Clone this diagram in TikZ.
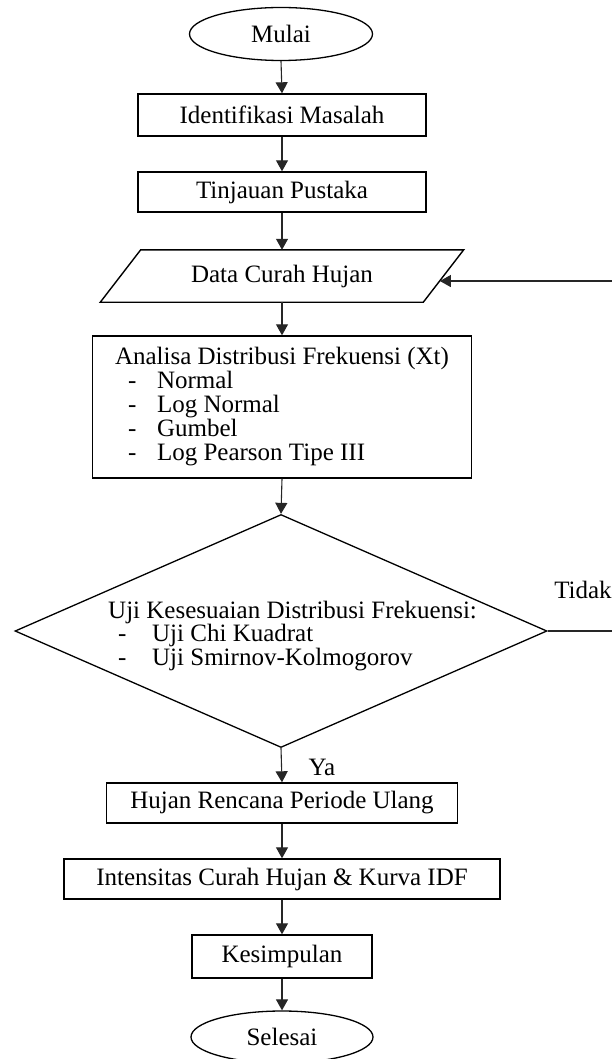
\documentclass[tikz,border=0pt]{standalone}
\usepackage{fontspec}
\setmainfont{Liberation Serif}
\usetikzlibrary{shapes.geometric,arrows.meta,calc}
\begin{document}
\begin{tikzpicture}[x=1pt,y=-1pt,
  every node/.style={font=\fontsize{25}{24}\selectfont, inner sep=0pt},
  box/.style={draw, line width=1.4pt, rectangle},
  term/.style={draw, line width=1.3pt, ellipse},
  dia/.style={draw, line width=1.3pt, diamond},
  edge/.style={line width=1.4pt},
  arr/.style={line width=1.1pt, draw=black!85, -{Triangle[width=12pt,length=11pt]}},
  lbl/.style={}]
\useasboundingbox (0,0) rectangle (611,1059);

\node[term, minimum width=183pt, minimum height=53pt] (start) at (281,34) {Mulai};
\node[box, minimum width=288pt, minimum height=42pt] (id) at (282,115) {Identifikasi Masalah};
\node[box, minimum width=288pt, minimum height=40pt] (tp) at (282,192) {Tinjauan Pustaka};
\node[minimum width=363pt, minimum height=52pt] (data) at (282,276) {Data Curah Hujan};
\draw[edge] (data.south west) -- ([xshift=323pt]data.south west) -- (data.north east)
  -- ([xshift=-323pt]data.north east) -- cycle;
\coordinate (dataR) at ($(data.north east)!0.596!([xshift=-40pt]data.south east)$);

\node[box, minimum width=379pt, minimum height=142pt, align=left] (an) at (282,407)
  {Analisa Distribusi Frekuensi (Xt)\\
   \hspace*{13pt}\makebox[29pt][l]{-}Normal\\
   \hspace*{13pt}\makebox[29pt][l]{-}Log Normal\\
   \hspace*{13pt}\makebox[29pt][l]{-}Gumbel\\
   \hspace*{13pt}\makebox[29pt][l]{-}Log Pearson Tipe III};

\node[dia, minimum width=532pt, minimum height=233pt] (dec) at (281,631) {};
\node[align=left, anchor=west, font=\fontsize{25}{22.5}\selectfont] (dectxt) at (108,636)
  {Uji Kesesuaian Distribusi Frekuensi:\\
   \hspace*{10pt}\makebox[34pt][l]{-}Uji Chi Kuadrat\\
   \hspace*{10pt}\makebox[34pt][l]{-}Uji Smirnov-Kolmogorov};

\node[box, minimum width=351pt, minimum height=40pt] (hr) at (282,803) {Hujan Rencana Periode Ulang};
\node[box, minimum width=436pt, minimum height=40pt] (in) at (282,879) {Intensitas Curah Hujan \& Kurva IDF};
\node[box, minimum width=180pt, minimum height=43pt] (ks) at (282,956.5) {Kesimpulan};
\node[term, minimum width=182pt, minimum height=52pt] (sel) at (282,1037) {Selesai};

\node[lbl] (tidak) at (583,590) {Tidak};
\node[lbl] (ya) at (322,767) {Ya};

\draw[arr] (start.south) -- (id.north);
\draw[arr] (id.south) -- (tp.north);
\draw[arr] (tp.south) -- (data.north);
\draw[arr] (data.south) -- (an.north);
\draw[arr] (an.south) -- (dec.north);
\draw[arr] (dec.south) -- (hr.north);
\draw[arr] (hr.south) -- (in.north);
\draw[arr] (in.south) -- (ks.north);
\draw[arr] (ks.south) -- (sel.north);
\coordinate (loopc) at (618,631);
\draw[arr] (dec.east) -- (loopc) |- (dataR);
\end{tikzpicture}
\end{document}
